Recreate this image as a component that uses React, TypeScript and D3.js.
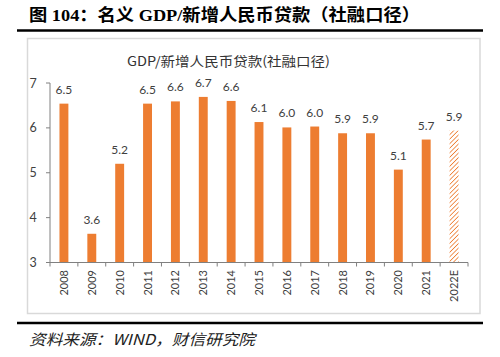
import React from "react";
import * as d3 from "d3";

const years = ["2008","2009","2010","2011","2012","2013","2014","2015","2016","2017","2018","2019","2020","2021","2022E"];
const ratios = [6.54,3.64,5.2,6.54,6.59,6.69,6.6,6.13,6.01,6.03,5.88,5.88,5.07,5.74,5.94];
const estimateYears = ["2022E"];
const yTicks = [3,4,5,6,7];
const mainTitle = "图 104：名义 GDP/新增人民币贷款（社融口径）";
const chartTitle = "GDP/新增人民币贷款(社融口径)";
const sourceText = "资料来源：WIND，财信研究院";

const ORANGE = "#ED7D31";

export default function App() {
  const W = 500, H = 357;
  const x = d3.scaleBand<string>().domain(years).range([50, 468]).paddingInner(0.68).paddingOuter(0.34);
  const y = d3.scaleLinear().domain([3, 7]).range([262.5, 83]);
  const step = x.step();
  const x0 = 50;
  const axisFont = "Lato, 'Open Sans', 'Noto Sans CJK SC', sans-serif";
  return (
    <svg width={W} height={H} viewBox={`0 0 ${W} ${H}`} style={{ position: "absolute", left: 0, top: 0, background: "#fff" }}>
      <defs>
        <pattern id="hatch" patternUnits="userSpaceOnUse" width="3.2" height="3.2" patternTransform="rotate(45)">
          <rect width="3.2" height="3.2" fill="#fff" />
          <line x1="0" y1="0" x2="0" y2="3.2" stroke={ORANGE} strokeWidth="1.6" />
        </pattern>
      </defs>
      <rect width={W} height={H} fill="#fff" />
      <text x={29} y={21} fontFamily="'Liberation Serif', 'Noto Sans CJK SC', serif" fontWeight="bold" fontSize={17} fill="#000" textLength={391} lengthAdjust="spacingAndGlyphs">{mainTitle}</text>
      <line x1={17} x2={483} y1={30.5} y2={30.5} stroke="#000" strokeWidth={2.5} />
      <rect x={27.5} y={38.5} width={452.5} height={275} fill="#fff" stroke="#d9d9d9" strokeWidth={1.5} />
      <text x={228.5} y={66} textAnchor="middle" fontFamily="'Noto Sans CJK SC', sans-serif" fontSize={13} fill="#333" textLength={203} lengthAdjust="spacingAndGlyphs">{chartTitle}</text>
      {/* y axis */}
      <line x1={50} x2={50} y1={y(7)} y2={y(3)} stroke="#808080" strokeWidth={1} />
      {yTicks.map(t => (
        <g key={t}>
          <line x1={46} x2={50} y1={y(t)} y2={y(t)} stroke="#808080" />
          <text x={33} y={y(t)} dy="0.36em" textAnchor="middle" fontFamily={axisFont} fontSize={12.5} fill="#404040">{t}</text>
        </g>
      ))}
      {/* bars */}
      {years.map((yr, i) => {
        const est = estimateYears.includes(yr);
        const bx = x(yr)!;
        const top = y(ratios[i]);
        return (
          <g key={yr}>
            <rect x={bx} y={top} width={x.bandwidth()} height={y(3) - top} fill={est ? "url(#hatch)" : ORANGE} />
            <text x={bx + x.bandwidth() / 2} y={top - 10} textAnchor="middle" fontFamily={axisFont} fontSize={12} fill="#404040">{d3.format(".1f")(ratios[i])}</text>
            <text transform={`translate(${bx + x.bandwidth() / 2},${270}) rotate(-90)`} textAnchor="end" dy="0.36em" fontFamily={axisFont} fontSize={11} fill="#404040">{yr}</text>
          </g>
        );
      })}
      {/* x axis */}
      <line x1={x0} x2={x0 + step * years.length} y1={y(3)} y2={y(3)} stroke="#808080" />
      {d3.range(years.length + 1).map(i => (
        <line key={i} x1={x0 + i * step} x2={x0 + i * step} y1={y(3)} y2={y(3) + 4} stroke="#808080" />
      ))}
      <line x1={17} x2={483} y1={323} y2={323} stroke="#000" strokeWidth={2.5} />
      <text x={29} y={345} fontFamily="'Noto Sans CJK SC', serif" fontStyle="italic" fontSize={15} fill="#222" textLength={226} lengthAdjust="spacingAndGlyphs">{sourceText}</text>
    </svg>
  );
}
